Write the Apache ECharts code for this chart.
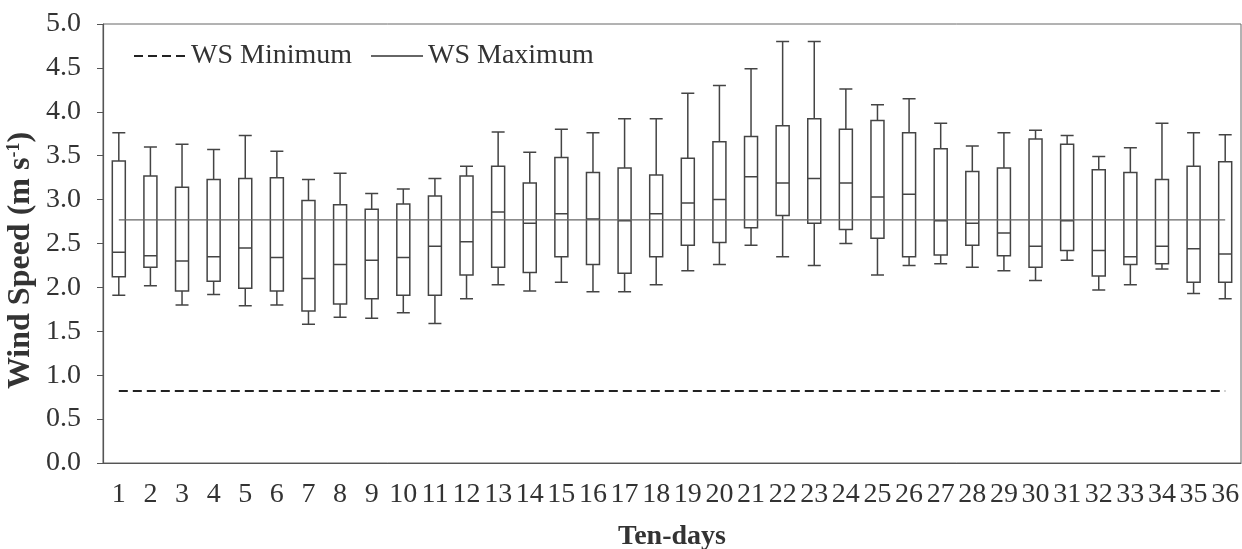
<!DOCTYPE html>
<html>
<head>
<meta charset="utf-8">
<script src="https://cdn.jsdelivr.net/npm/echarts@6/dist/echarts.min.js"></script>
<style>
html,body{margin:0;padding:0;background:#fff;}
#chart{width:1242px;height:549px;}
</style>
</head>
<body>
<div id="chart"></div>
<script>
var categories = ['1','2','3','4','5','6','7','8','9','10','11','12','13','14','15','16','17','18','19','20','21','22','23','24','25','26','27','28','29','30','31','32','33','34','35','36'];
var whiskerMin = [1.91,2.02,1.80,1.92,1.79,1.80,1.58,1.66,1.65,1.71,1.59,1.87,2.03,1.96,2.06,1.95,1.95,2.03,2.19,2.26,2.48,2.35,2.25,2.50,2.14,2.25,2.27,2.23,2.19,2.08,2.31,1.97,2.03,2.21,1.93,1.87];
var quartile1  = [2.12,2.23,1.96,2.07,1.99,1.96,1.73,1.81,1.87,1.91,1.91,2.14,2.23,2.17,2.35,2.26,2.16,2.35,2.48,2.51,2.68,2.82,2.73,2.66,2.56,2.35,2.37,2.48,2.36,2.23,2.42,2.13,2.26,2.27,2.06,2.06];
var medians    = [2.40,2.36,2.30,2.35,2.45,2.34,2.10,2.26,2.31,2.34,2.47,2.52,2.86,2.73,2.84,2.78,2.76,2.84,2.96,3.00,3.26,3.19,3.24,3.19,3.03,3.06,2.76,2.73,2.62,2.47,2.76,2.42,2.35,2.47,2.44,2.38];
var quartile3  = [3.44,3.27,3.14,3.23,3.24,3.25,2.99,2.94,2.89,2.95,3.04,3.27,3.38,3.19,3.48,3.31,3.36,3.28,3.47,3.66,3.72,3.84,3.92,3.80,3.90,3.76,3.58,3.32,3.36,3.69,3.63,3.34,3.31,3.23,3.38,3.43];
var whiskerMax = [3.76,3.60,3.63,3.57,3.73,3.55,3.23,3.30,3.07,3.12,3.24,3.38,3.77,3.54,3.80,3.76,3.92,3.92,4.21,4.30,4.49,4.80,4.80,4.26,4.08,4.15,3.87,3.61,3.76,3.79,3.73,3.49,3.59,3.87,3.76,3.74];
var wsMinimum = 0.82;
var wsMaximum = 2.77;
var yTicks = ['0.0','0.5','1.0','1.5','2.0','2.5','3.0','3.5','4.0','4.5','5.0'];

var boxData = categories.map(function (c, i) {
  return [whiskerMin[i], quartile1[i], medians[i], quartile3[i], whiskerMax[i]];
});
var minLine = categories.map(function () { return wsMinimum; });
var maxLine = categories.map(function () { return wsMaximum; });

var FONT = '"Liberation Serif", "DejaVu Serif", serif';
var chart = echarts.init(document.getElementById('chart'), null, {renderer: 'canvas'});
chart.setOption({
  animation: false,
  backgroundColor: '#fff',
  grid: {left: 103, right: 1, top: 24, bottom: 86, containLabel: false, outerBoundsMode: 'none',
         show: true, borderColor: '#666', borderWidth: 1},
  legend: {
    left: 128, top: 37,
    itemWidth: 52, itemHeight: 14, itemGap: 18,
    data: ['WS Minimum', 'WS Maximum'],
    itemStyle: {opacity: 0},
    textStyle: {fontFamily: FONT, fontSize: 28, color: '#333'}
  },
  xAxis: {
    type: 'category',
    data: categories,
    name: 'Ten-days',
    nameLocation: 'middle',
    nameGap: 60,
    nameMoveOverlap: false,
    nameTextStyle: {fontFamily: FONT, fontSize: 28, fontWeight: 'bold', color: '#333'},
    axisLine: {lineStyle: {color: '#555', width: 1.2}},
    axisTick: {length: 8, lineStyle: {color: '#555'}},
    axisLabel: {interval: 0, margin: 18, fontFamily: FONT, fontSize: 28, color: '#333'},
    splitLine: {show: false}
  },
  yAxis: {
    type: 'value',
    min: 0, max: 5, interval: 0.5,
    name: '{a|Wind Speed (m s}{s|-1}{a|)}',
    nameLocation: 'middle',
    nameGap: 66,
    nameMoveOverlap: false,
    nameRotate: 90,
    nameTextStyle: {
      color: '#333',
      padding: [0, 34, 0, 0],
      rich: {
        a: {fontFamily: FONT, fontSize: 32, fontWeight: 'bold', color: '#333'},
        s: {fontFamily: FONT, fontSize: 18, fontWeight: 'bold', color: '#333', verticalAlign: 'top'}
      }
    },
    axisLine: {show: true, lineStyle: {color: '#555', width: 1.2}},
    axisTick: {show: true, length: 6, lineStyle: {color: '#555'}},
    axisLabel: {
      margin: 22, fontFamily: FONT, fontSize: 28, color: '#333',
      formatter: function (v) { return yTicks[Math.round(v / 0.5)]; }
    },
    splitLine: {show: false}
  },
  series: [
    {
      name: 'Boxes',
      type: 'boxplot',
      data: boxData,
      boxWidth: [13, 13],
      itemStyle: {color: 'rgba(0,0,0,0)', borderColor: '#444', borderWidth: 1.5},
      z: 2
    },
    {
      name: 'WS Minimum',
      type: 'line',
      data: minLine,
      symbol: 'none',
      lineStyle: {color: '#222', width: 2.2, type: [9, 5]},
      itemStyle: {color: '#222'},
      z: 3
    },
    {
      name: 'WS Maximum',
      type: 'line',
      data: maxLine,
      symbol: 'none',
      lineStyle: {color: '#666', width: 1.2},
      itemStyle: {color: '#666'},
      z: 3
    }
  ]
});
</script>
</body>
</html>
